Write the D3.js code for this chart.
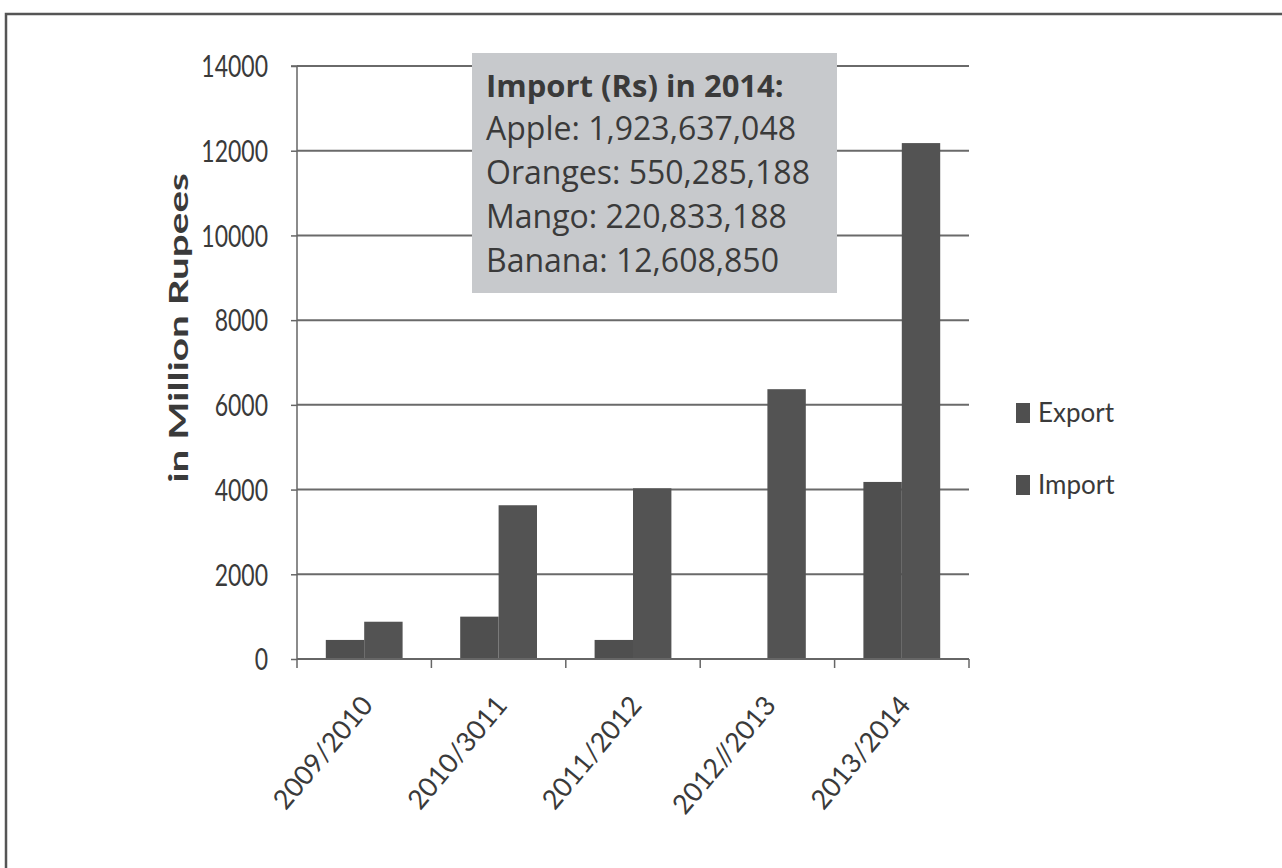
<!DOCTYPE html>
<html><head><meta charset="utf-8">
<script src="https://cdn.jsdelivr.net/npm/d3@7"></script>
<style>
html,body{margin:0;padding:0;background:#fff;}
svg{display:block;}
text{font-family:Lato, "Open Sans", sans-serif;}
</style></head>
<body>
<svg id="chart" width="1282" height="868"></svg>
<script>
const categories = ["2009/2010","2010/3011","2011/2012","2012//2013","2013/2014"];
const exportValues = [450, 1000, 450, 0, 4180];
const importValues = [880, 3630, 4030, 6370, 12180];
const seriesNames = ["Export","Import"];
const yTicks = [0,2000,4000,6000,8000,10000,12000,14000];
const noteTitle = "Import (Rs) in 2014:";
const noteLines = ["Apple: 1,923,637,048","Oranges: 550,285,188","Mango: 220,833,188","Banana: 12,608,850"];

(function(){
const svg = d3.select("#chart");
const txt = "#3a3a3a";
// outer frame
svg.append("rect").attr("x",6).attr("y",14).attr("width",1290).attr("height",870)
  .attr("fill","none").attr("stroke","#555").attr("stroke-width",2.5);

const pL=297, pR=969, pT=66, pB=659;
const x = d3.scaleBand().domain(categories).range([pL,pR]).paddingInner(0).paddingOuter(0);
const y = d3.scaleLinear().domain([0,14000]).range([pB,pT]);
const x1 = d3.scaleBand().domain(seriesNames).range([0,x.bandwidth()]).paddingInner(0).paddingOuter(0.75);

// grid
svg.append("g").selectAll("line").data(yTicks.filter(d=>d>0)).join("line")
  .attr("x1",pL).attr("x2",pR).attr("y1",d=>y(d)).attr("y2",d=>y(d))
  .attr("stroke","#6a6a6a").attr("stroke-width",2);

// y axis
const sy = 1.3;
const yAxis = d3.axisLeft(y).tickValues(yTicks).tickSize(6).tickPadding(24).tickFormat(d3.format("d"));
const gy = svg.append("g").attr("transform",`translate(${pL},0)`).call(yAxis);
gy.select(".domain").attr("stroke","#666").attr("stroke-width",1.5).attr("d",`M-6,${pT}H0V${pB}`);
gy.selectAll(".tick line").attr("stroke","#666").attr("stroke-width",1.5);
gy.selectAll(".tick text").attr("font-size",23).attr("fill",txt).style("font-family","Lato, sans-serif")
  .attr("transform",`scale(1,${sy})`).attr("x",-29).attr("dy","0.36em");

// bars
const data = categories.map((c,i)=>({cat:c, vals:[{k:"Export",v:exportValues[i]},{k:"Import",v:importValues[i]}]}));
const g = svg.append("g");
g.selectAll("g").data(data).join("g").attr("transform",d=>`translate(${x(d.cat)},0)`)
  .selectAll("rect").data(d=>d.vals).join("rect")
  .attr("x",d=>x1(d.k)).attr("width",x1.bandwidth())
  .attr("y",d=>y(d.v)).attr("height",d=>pB-y(d.v))
  .attr("fill",d=>d.k==="Export"?"#4f4f4f":"#535353");

// x axis
const xAxis = d3.axisBottom(x).tickSize(0).tickFormat("");
const gx = svg.append("g").attr("transform",`translate(0,${pB})`).call(xAxis);
gx.select(".domain").attr("stroke","#666").attr("stroke-width",2).attr("d",`M${pL},0H${pR}`);
const bounds = categories.map(c=>x(c)).concat([pR]);
svg.append("g").selectAll("line").data(bounds).join("line")
  .attr("x1",d=>d).attr("x2",d=>d).attr("y1",pB).attr("y2",pB+9)
  .attr("stroke","#666").attr("stroke-width",1.5);
svg.append("g").selectAll("text").data(categories).join("text")
  .attr("transform",d=>`translate(${x(d)+x.bandwidth()/2+10},${pB+47}) rotate(-50)`)
  .attr("text-anchor","end").attr("font-size",27).attr("fill",txt)
  .text(d=>d);

// y title
svg.append("text").attr("transform",`translate(188,328) scale(1,1.5) rotate(-90)`)
  .attr("text-anchor","middle").attr("font-size",27).attr("font-weight","bold").attr("fill",txt)
  .text("in Million Rupees");

// note box
svg.append("rect").attr("x",472).attr("y",53).attr("width",365).attr("height",240).attr("fill","#c7c9cc");
svg.append("text").attr("x",486).attr("y",97).attr("font-size",31).attr("font-weight","bold")
  .style("font-family","'Open Sans', sans-serif").attr("fill",txt).text(noteTitle);
svg.append("g").selectAll("text").data(noteLines).join("text")
  .attr("x",486).attr("y",(d,i)=>140+i*44).attr("font-size",32)
  .style("font-family","'Open Sans', sans-serif").attr("fill",txt).text(d=>d);

// legend
const lg = svg.append("g").selectAll("g").data(seriesNames).join("g")
  .attr("transform",(d,i)=>`translate(1016,${413+i*72})`);
lg.append("rect").attr("x",0).attr("y",-10).attr("width",14).attr("height",20).attr("fill","#4f4f4f");
lg.append("text").attr("x",22).attr("y",0).attr("dy","0.36em").attr("font-size",26)
  .attr("transform","scale(1,1)").attr("fill",txt).text(d=>d);
})();
</script>
</body></html>
